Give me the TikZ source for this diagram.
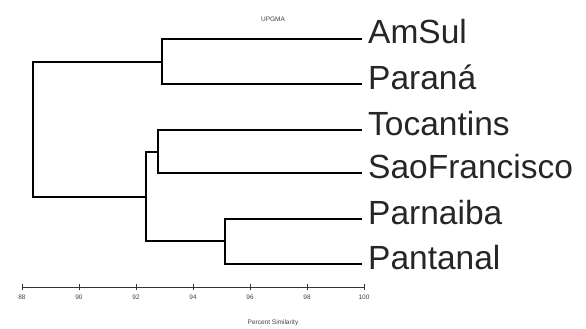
\documentclass[tikz,border=0pt]{standalone}
\usepackage{fontspec}
\setmainfont{Liberation Sans}
\usepackage{tikz}
\usetikzlibrary{positioning}

\begin{document}
\begin{tikzpicture}[x=1pt, y=-1pt,
    leaf/.style={anchor=west, inner xsep=6pt, inner ysep=0pt, text height=22pt, text depth=12pt,
                 text=black!85, font=\fontsize{33.5}{35}\selectfont},
    small/.style={inner sep=0pt, text=black!75, font=\fontsize{6.5}{7}\selectfont},
    branch/.style={line width=1.1pt}]
    \useasboundingbox (0,0) rectangle (586,329);

    \node[small] (title) at (273,19) {UPGMA};

    % leaves
    \node[leaf] (amsul)  at (362, 39) {AmSul};
    \node[leaf] (parana) at (362, 84) {Paraná};
    \node[leaf] (tocant) at (362,130) {Tocantins};
    \node[leaf] (saofra) at (362,173) {SaoFrancisco};
    \node[leaf] (parnai) at (362,219) {Parnaiba};
    \node[leaf] (pantan) at (362,264) {Pantanal};

    % joins
    \coordinate (j_ap)   at (162, 62);
    \coordinate (j_ts)   at (158,152);
    \coordinate (j_pp)   at (225,241);
    \coordinate (j_rest) at (146,197);
    \coordinate (j_root) at ( 33,130);

    \draw[branch] (amsul.west)  -| (j_ap) |- (parana.west);
    \draw[branch] (tocant.west) -| (j_ts) |- (saofra.west);
    \draw[branch] (parnai.west) -| (j_pp) |- (pantan.west);
    \draw[branch] (j_ts) -| (j_rest) |- (j_pp);
    \draw[branch] (j_ap) -| (j_root) |- (j_rest);

    % axis
    \coordinate (ax_l) at (22,287);
    \coordinate (ax_r) at (364,287);
    \draw[line width=0.9pt, black!80] (ax_l) -- (ax_r);
    \foreach \v [count=\i from 0] in {88,90,...,100} {
        \draw[black!80] ([shift={(\i*57,-3)}]ax_l) -- ([shift={(\i*57,3)}]ax_l);
        \node[small] (tl\v) at ([shift={(\i*57,10)}]ax_l) {\v};
    }
    \node[small] (axlabel) at (273,323) {Percent Similarity};
\end{tikzpicture}
\end{document}
